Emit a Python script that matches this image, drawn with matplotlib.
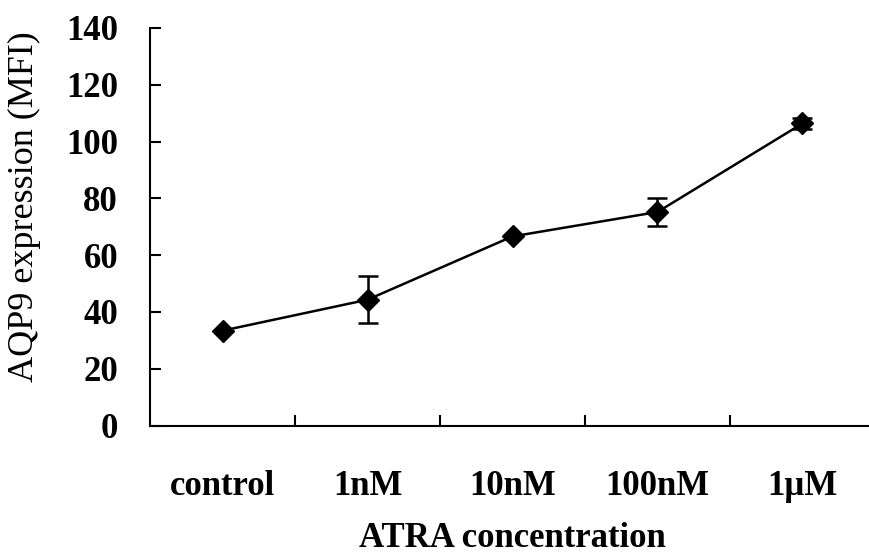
import numpy as np
import matplotlib.pyplot as plt

# data
categories = ['control', '1nM', '10nM', '100nM', '1\u00b5M']
mfi_mean = [33.4, 44.3, 66.6, 75.2, 106.4]
mfi_err = [0.0, 8.2, 0.0, 5.0, 1.8]

plt.rcParams['font.family'] = ['Liberation Serif', 'DejaVu Serif']

fig = plt.figure(figsize=(8.7, 5.56), dpi=100)
ax = fig.add_axes([150 / 870, 1 - 425.5 / 556, 725 / 870, (425.5 - 28) / 556])

x = np.arange(len(categories))
ax.errorbar(x, mfi_mean, yerr=mfi_err, color='black', linewidth=1.8,
            marker='D', markersize=11, capsize=7, capthick=1.8, elinewidth=1.8)

ax.set_xlim(-0.5, len(categories) - 0.5)
ax.set_ylim(0, 140)
ax.set_yticks(np.arange(0, 141, 20))
ax.set_xticks(x)
ax.set_xticklabels(categories, fontsize=25, fontweight='bold')
ax.set_xticks(x[:-1] + 0.5, minor=True)
ax.tick_params(axis='x', which='major', length=0, pad=32)
ax.tick_params(axis='x', which='minor', direction='in', length=8, width=1.5)
ax.tick_params(axis='y', direction='in', length=8, width=1.5, pad=23, labelsize=25)
for lab in ax.get_yticklabels():
    lab.set_fontweight('bold')

for side in ['top', 'right']:
    ax.spines[side].set_visible(False)
for side in ['left', 'bottom']:
    ax.spines[side].set_linewidth(1.5)

ax.set_ylabel('AQP9 expression (MFI)', fontsize=26)
ax.yaxis.set_label_coords(-0.15, 0.55)
ax.set_xlabel('ATRA concentration', fontsize=25, fontweight='bold')
ax.xaxis.set_label_coords(0.5, -0.243)

fig.savefig('out.png', dpi=100)
